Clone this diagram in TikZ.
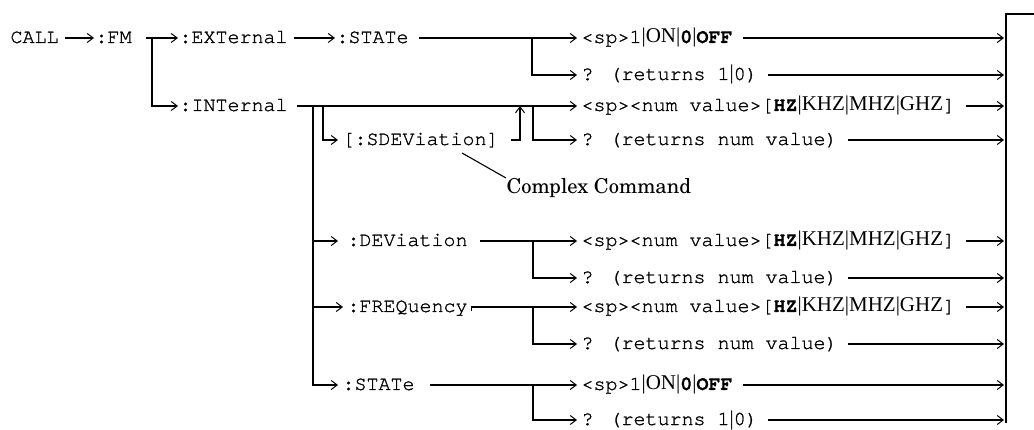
\documentclass[tikz,border=0pt]{standalone}
\usepackage{fontspec}
\setmainfont{texgyrecursor}[Extension=.otf,UprightFont=*-regular,BoldFont=*-bold,UprightFeatures={FakeBold=1.2},BoldFeatures={FakeBold=0.6}]
\newfontfamily\tms{Liberation Serif}
\newfontfamily\sch{texgyreschola}[Extension=.otf,UprightFont=*-regular]
\usetikzlibrary{arrows.meta}
\newcommand{\mybar}{{\tms\fontsize{21}{21}\selectfont|}}
\newcommand{\tm}[1]{{\tms\fontsize{21}{21}\selectfont #1}}
\def\ra{38}\def\rb{75}\def\rc{106}\def\rd{140}
\def\re{241}\def\rf{278}\def\rg{307}\def\rh{344}\def\ri{385}\def\rj{420}
\begin{document}
\begin{tikzpicture}[x=1pt,y=-1pt,line width=1.1pt,
  cmd/.style={anchor=west,inner sep=0pt,text height=12pt,text depth=2pt,font=\fontsize{20}{24}\selectfont},
  arr/.style={-{Straight Barb[length=6pt,width=9pt,line width=1pt]}},
  note/.style={anchor=north west,inner sep=0pt,font=\sch\fontsize{20.5}{24}\selectfont}]
\useasboundingbox (0,0) rectangle (1034,430);
% nodes
\node[cmd] (call) at (10,\ra) {CALL};
\node[cmd] (fm) at (95,\ra) {:FM};
\node[cmd] (ext) at (179,\ra) {:EXTernal};
\node[cmd] (int) at (179,\rc) {:INTernal};
\node[cmd] (sta) at (336,\ra) {:STATe};
\node[cmd] (a1) at (581,\ra) {<sp>1\mybar\tm{ON}\mybar\textbf{0}\mybar\textbf{OFF}};
\node[cmd] (q1) at (581,\rb) {? (returns 1\mybar 0)};
\node[cmd] (a3) at (581,\rc) {<sp><num value>[\textbf{HZ}\mybar\tm{KHZ}\mybar\tm{MHZ}\mybar\tm{GHZ}]};
\node[cmd] (sdev) at (342,\rd) {[:SDEViation]};
\node[cmd] (q3) at (581,\rd) {? (returns num value)};
\node[note] (cc) at (506,178) {Complex Command};
\node[cmd] (dev) at (347,\re) {:DEViation};
\node[cmd] (a5) at (581,\re) {<sp><num value>[\textbf{HZ}\mybar\tm{KHZ}\mybar\tm{MHZ}\mybar\tm{GHZ}]};
\node[cmd] (q5) at (581,\rf) {? (returns num value)};
\node[cmd] (freq) at (347,\rg) {:FREQuency};
\node[cmd] (a7) at (581,\rg) {<sp><num value>[\textbf{HZ}\mybar\tm{KHZ}\mybar\tm{MHZ}\mybar\tm{GHZ}]};
\node[cmd] (q7) at (581,\rh) {? (returns num value)};
\node[cmd] (st2) at (342,\ri) {:STATe};
\node[cmd] (a9) at (581,\ri) {<sp>1\mybar\tm{ON}\mybar\textbf{0}\mybar\textbf{OFF}};
\node[cmd] (q9) at (581,\rj) {? (returns 1\mybar 0)};
% coordinates
\coordinate (boxL) at (1004,0);
\coordinate (fmbr) at (152,\ra);
\coordinate (b1) at (532,\ra);
\coordinate (v1) at (313,\rc);
\coordinate (v2) at (323,\rc);
\coordinate (up) at (520,\rc);
\coordinate (b3) at (533,\rc);
\coordinate (b5) at (533,\re);
\coordinate (b7) at (533,\rg);
\coordinate (b9) at (533,\ri);
\coordinate (ccp) at (462,153);
% connectors
\draw[arr] ([xshift=6]call.east) -- ([xshift=-1]fm.west);
\draw[arr] ([xshift=14]fm.east) -- ([xshift=-1]ext.west);
\draw[arr] (fmbr) |- ([xshift=-1]int.west);
\draw[arr] ([xshift=6]ext.east) -- ([xshift=-1]sta.west);
\draw[arr] ([xshift=10]sta.east) -- ([xshift=-4]a1.west);
\draw[arr] (b1) |- ([xshift=-4]q1.west);
\draw[arr] ([xshift=9]int.east) -- ([xshift=-4]a3.west);
\draw[arr] (v1) |- ([xshift=-4]st2.west);
\draw[arr] (v1 |- dev.west) -- ([xshift=-9]dev.west);
\draw[arr] (v1 |- freq.west) -- ([xshift=-4]freq.west);
\draw[arr] (v2) |- ([xshift=-4]sdev.west);
\draw[arr] ([xshift=12]sdev.east) -| (up);
\draw[arr] (b3) |- ([xshift=-4]q3.west);
\draw[arr] ([xshift=12]dev.east) -- ([xshift=-4]a5.west);
\draw[arr] (b5) |- ([xshift=-4]q5.west);
\draw[arr] ([xshift=3,yshift=-4]freq.east) -- ([xshift=3]freq.east) -- ([xshift=-4]a7.west);
\draw[arr] (b7) |- ([xshift=-4]q7.west);
\draw[arr] ([xshift=15]st2.east) -- ([xshift=-4]a9.west);
\draw[arr] (b9) |- ([xshift=-4]q9.west);
\foreach \n in {a1,q1,a3,q3,a5,q5,a7,q7,a9,q9}
  \draw[arr] ([xshift=10]\n.east) -- (\n.east -| boxL);
\draw (1034,14) -- (1006,14) -- (1006,423);
\draw (ccp) -- (cc.north west);
\end{tikzpicture}
\end{document}
